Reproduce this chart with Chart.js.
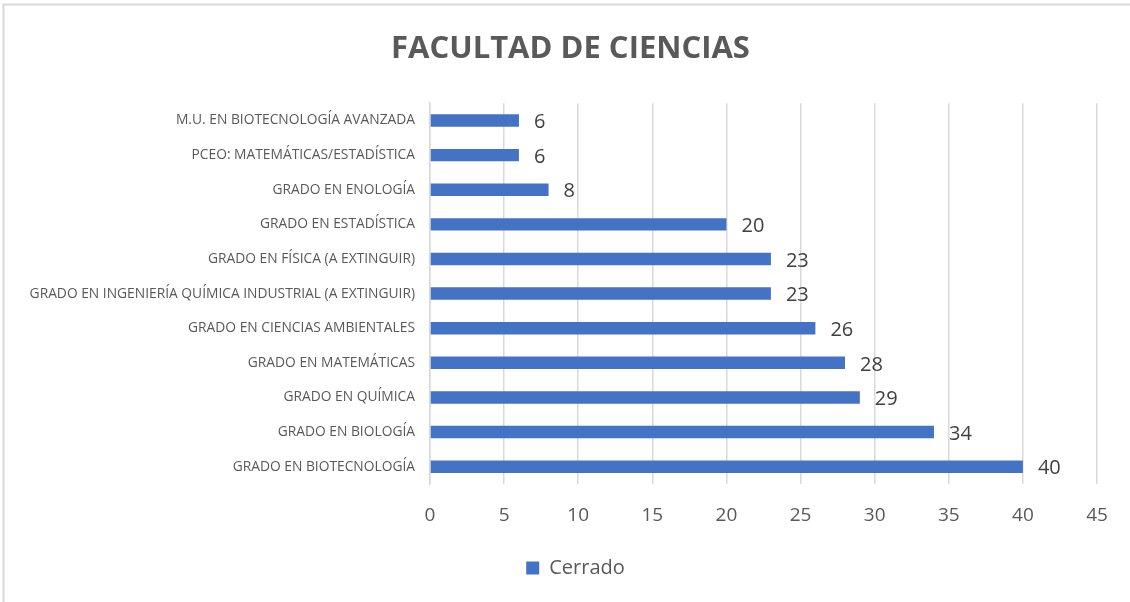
<!DOCTYPE html>
<html>
<head>
<meta charset="utf-8">
<script src="https://cdn.jsdelivr.net/npm/chart.js@4"></script>
<style>
  html, body { margin: 0; padding: 0; background: #fff; }
  #wrap { position: relative; width: 1130px; height: 602px; }
</style>
</head>
<body>
<div id="wrap"><canvas id="chart" width="1130" height="602"></canvas></div>
<script>
  'use strict';

  // Plazas en estado "Cerrado" por titulación
  var categories = [
    'M.U. EN BIOTECNOLOGÍA AVANZADA',
    'PCEO: MATEMÁTICAS/ESTADÍSTICA',
    'GRADO EN ENOLOGÍA',
    'GRADO EN ESTADÍSTICA',
    'GRADO EN FÍSICA (A EXTINGUIR)',
    'GRADO EN INGENIERÍA QUÍMICA INDUSTRIAL (A EXTINGUIR)',
    'GRADO EN CIENCIAS AMBIENTALES',
    'GRADO EN MATEMÁTICAS',
    'GRADO EN QUÍMICA',
    'GRADO EN BIOLOGÍA',
    'GRADO EN BIOTECNOLOGÍA'
  ];
  var cerrado = [6, 6, 8, 20, 23, 23, 26, 28, 29, 34, 40];
  var xTicks = [0, 5, 10, 15, 20, 25, 30, 35, 40, 45];

  var textGray = '#595959';
  var gridGray = '#d9d9d9';

  // Frame line along the top and left edges
  var framePlugin = {
    id: 'frame',
    beforeDraw: function (chart) {
      var ctx = chart.ctx;
      ctx.save();
      ctx.strokeStyle = gridGray;
      ctx.lineWidth = 2;
      ctx.beginPath();
      ctx.moveTo(3.5, chart.height);
      ctx.lineTo(3.5, 4.5);
      ctx.lineTo(chart.width, 4.5);
      ctx.stroke();
      ctx.restore();
    }
  };

  // Centre title and legend on the whole frame instead of the padded box
  var centreBlocks = {
    id: 'centreBlocks',
    afterLayout: function (chart) {
      if (chart.titleBlock) {
        chart.titleBlock.left += 22;
        chart.titleBlock.right += 22;
      }
      if (chart.legend) {
        chart.legend.left += 27;
        chart.legend.right += 27;
      }
    }
  };

  // Value labels to the right of each bar
  var valueLabels = {
    id: 'valueLabels',
    afterDatasetsDraw: function (chart) {
      var ctx = chart.ctx;
      var meta = chart.getDatasetMeta(0);
      var data = chart.data.datasets[0].data;
      ctx.save();
      ctx.font = '20px "Open Sans"';
      ctx.fillStyle = '#404040';
      ctx.textAlign = 'left';
      ctx.textBaseline = 'middle';
      meta.data.forEach(function (bar, i) {
        ctx.fillText(String(data[i]), bar.x + 15, bar.y + 2);
      });
      ctx.restore();
    }
  };

  var ctx = document.getElementById('chart').getContext('2d');
  new Chart(ctx, {
    type: 'bar',
    data: {
      labels: categories,
      datasets: [{
        label: 'Cerrado',
        data: cerrado,
        backgroundColor: '#4472c4',
        borderWidth: 0,
        categoryPercentage: 1,
        barPercentage: 0.36
      }]
    },
    options: {
      indexAxis: 'y',
      responsive: false,
      animation: false,
      layout: { padding: { left: 0, right: 33, top: 0, bottom: 14 } },
      scales: {
        x: {
          min: 0,
          max: 45,
          afterBuildTicks: function (scale) {
            scale.ticks = xTicks.map(function (v) { return { value: v }; });
          },
          afterFit: function (scale) { scale.height = 64; },
          grid: { color: gridGray, lineWidth: 1.5, drawTicks: false },
          border: { display: false },
          ticks: {
            padding: 20,
            color: textGray,
            font: { family: 'Open Sans', size: 19 }
          }
        },
        y: {
          afterFit: function (scale) { scale.width = 430; },
          grid: { display: false, drawTicks: false },
          border: { display: true, color: gridGray, width: 1.5 },
          ticks: {
            padding: 15,
            color: textGray,
            font: { family: 'Open Sans', size: 13.8 }
          }
        }
      },
      plugins: {
        title: {
          display: true,
          text: 'FACULTAD DE CIENCIAS',
          color: textGray,
          font: { family: 'Open Sans', size: 31, weight: 'bold' },
          padding: { top: 31, bottom: 35 }
        },
        legend: {
          position: 'bottom',
          labels: {
            color: textGray,
            font: { family: 'Open Sans', size: 20 },
            boxWidth: 13,
            boxHeight: 13,
            padding: 10
          }
        },
        tooltip: { enabled: false }
      }
    },
    plugins: [framePlugin, centreBlocks, valueLabels]
  });
</script>
</body>
</html>
